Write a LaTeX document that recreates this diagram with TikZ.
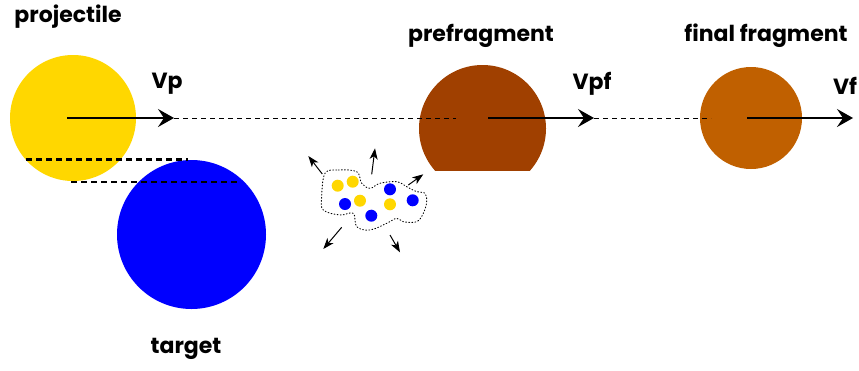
\documentclass[tikz,border=0pt]{standalone}
\usepackage{fontspec}
\setmainfont{Poppins}
\usetikzlibrary{arrows.meta}
\definecolor{proj}{RGB}{255,215,0}
\definecolor{targ}{RGB}{0,0,255}
\definecolor{pref}{RGB}{160,64,0}
\definecolor{fin}{RGB}{192,96,0}
\tikzset{
  lbl/.style={font=\fontsize{22}{26}\selectfont\bfseries, inner sep=0pt},
  ball/.style={circle, inner sep=0pt, draw=none},
  vel/.style={line width=1.5pt, -{Stealth[length=16pt,width=18pt,inset=6pt]}},
  thin dash/.style={line width=0.8pt, dash pattern=on 5pt off 4pt},
  thick dash/.style={line width=2.4pt, dash pattern=on 6pt off 4pt},
  spray/.style={line width=1pt, -{Stealth[length=11pt,width=8pt,inset=3pt]}},
  dot/.style={circle, inner sep=0pt, minimum size=12pt},
}
\begin{document}
\begin{tikzpicture}[x=1pt,y=-1pt]
\useasboundingbox (0,0) rectangle (859,370);
% balls
\node[ball, fill=proj, minimum size=126pt] (projc) at (73,118) {};
\node[ball, fill=targ, minimum size=149pt] (targc) at (191.5,234.5) {};
\node[ball, fill=fin, minimum size=102pt] (finc) at (751,118) {};
\begin{scope}
  \clip (400,40) rectangle (560,170.5);
  \fill[pref] (482.5,128.5) circle (63.5);
\end{scope}
\coordinate (prefc) at (482.5,128.5);
% impact parameter lines
\coordinate (d1a) at (26,159.3); \coordinate (d1b) at (188,159.3);
\coordinate (d2a) at (71,182); \coordinate (d2b) at (237,182);
\draw[thick dash] (d1a) -- (d1b);
\draw[thick dash] (d2a) -- (d2b);
% velocities
\coordinate (vps) at (67,118); \coordinate (vpe) at (174,118);
\coordinate (pfm) at (456,118);
\coordinate (vpfs) at (488,118); \coordinate (vpfe) at (594,118);
\coordinate (fm) at (711,118);
\coordinate (vfs) at (747,118); \coordinate (vfe) at (853,118);
\draw[vel] (vps) -- (vpe);
\draw[thin dash] (vpe) -- (pfm);
\draw[vel] (vpfs) -- (vpfe);
\draw[thin dash] (vpfe) -- (fm);
\draw[vel] (vfs) -- (vfe);
% labels
\node[lbl] (tproj) at (68,17) {projectile};
\node[lbl] (ttarg) at (186,349) {target};
\node[lbl] (tpref) at (481,36) {prefragment};
\node[lbl] (tfin) at (766,36) {final fragment};
\node[lbl] (tvp) at (167,84) {Vp};
\node[lbl] (tvpf) at (592,84) {Vpf};
\node[lbl] (tvf) at (845,86) {Vf};
% cluster
\draw[line width=0.9pt, dash pattern=on 0.9pt off 2.2pt, line cap=round]
  plot[smooth cycle, tension=0.6] coordinates {
  (325,173.3) (338.3,170) (356.7,171.7) (361.7,183.3) (370,188.3) (380,183.3)
  (396.7,181.7) (406.7,186.7) (416.7,191.7) (425,193.3) (426.7,201.7)
  (423.3,213.3) (416.7,221.7) (403.3,221.7) (396.7,218.3) (386.7,223.3)
  (370,230) (356.7,226.7) (353.3,213.3) (340,215) (323.3,210) (321.7,196.7)};
\node[dot, fill=proj] (n1) at (337.7,185.7) {};
\node[dot, fill=proj] (n2) at (352.7,181.7) {};
\node[dot, fill=targ] (n3) at (345,204) {};
\node[dot, fill=proj] (n4) at (360,200.7) {};
\node[dot, fill=targ] (n5) at (371.3,215.7) {};
\node[dot, fill=targ] (n6) at (390,189.3) {};
\node[dot, fill=proj] (n7) at (390,204.3) {};
\node[dot, fill=targ] (n8) at (412.7,200.3) {};
% emitted particles
\coordinate (a1s) at (322.3,174); \coordinate (a1e) at (308.3,156);
\coordinate (a2s) at (371.7,174.3); \coordinate (a2e) at (375,148.3);
\coordinate (a3s) at (408.3,185); \coordinate (a3e) at (423.3,174.3);
\coordinate (a4s) at (341.7,227.3); \coordinate (a4e) at (323.3,249);
\coordinate (a5s) at (390,235); \coordinate (a5e) at (400,252.3);
\draw[spray] (a1s) -- (a1e);
\draw[spray] (a2s) -- (a2e);
\draw[spray] (a3s) -- (a3e);
\draw[spray] (a4s) -- (a4e);
\draw[spray] (a5s) -- (a5e);
\end{tikzpicture}
\end{document}
